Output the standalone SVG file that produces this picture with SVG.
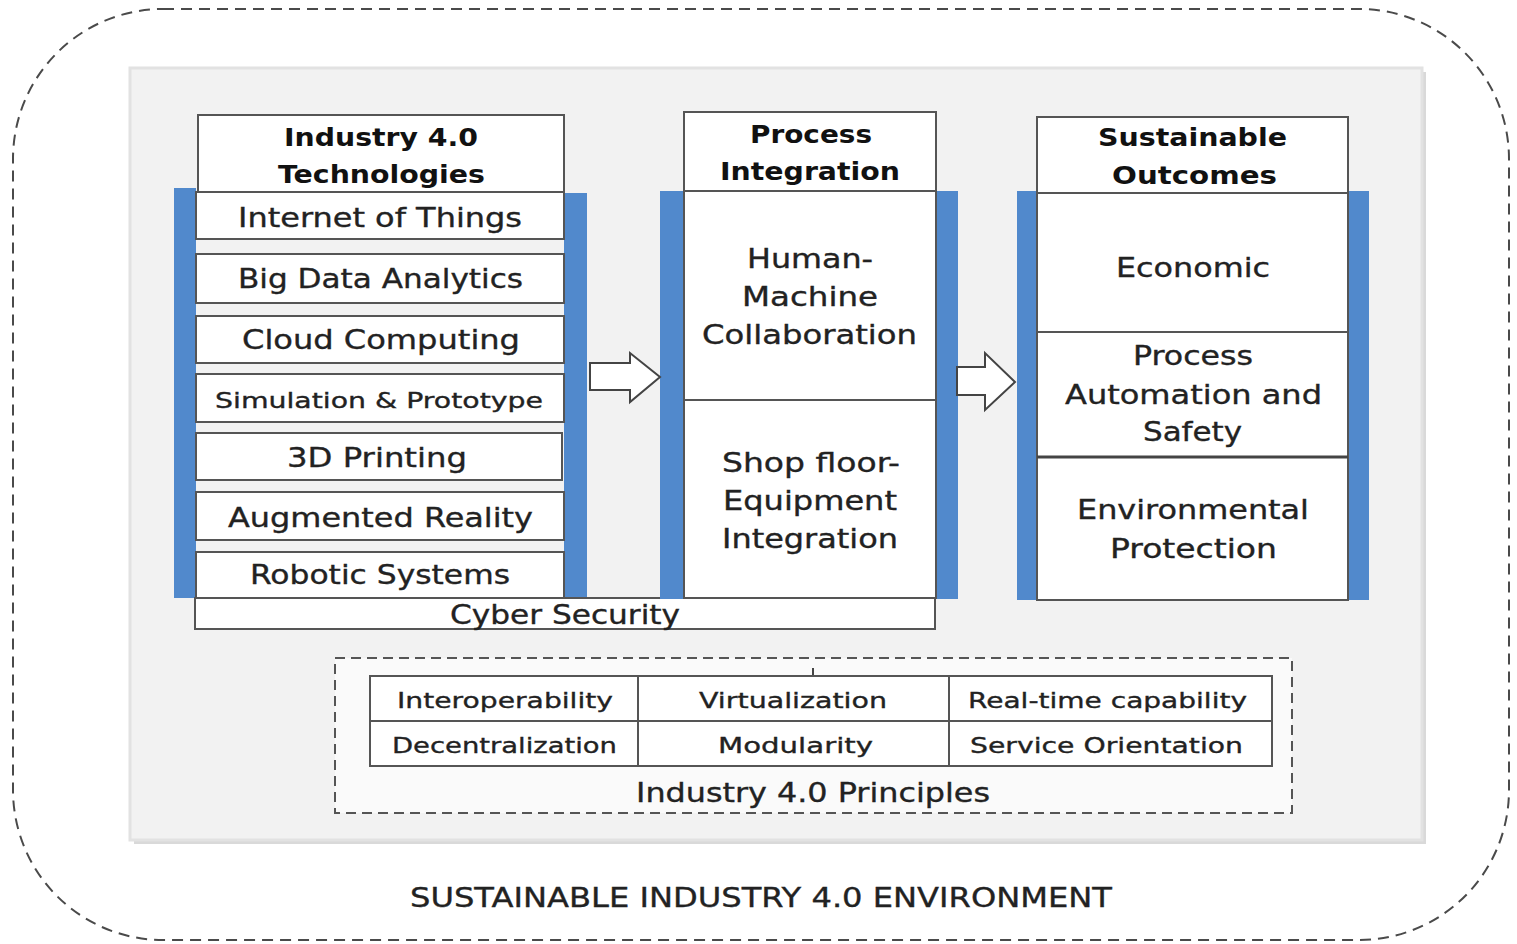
<svg xmlns="http://www.w3.org/2000/svg" width="1517" height="944" viewBox="0 0 1517 944">
<style>
.bar{fill:#5189cc}
.box{fill:#fff;stroke:#555;stroke-width:2}
.t{font-family:"DejaVu Sans",Verdana,sans-serif;fill:#222;font-size:27px;stroke:#222;stroke-width:0.35}
.h{font-weight:bold;font-size:25px;fill:#111;stroke:none}
.m{font-size:26px}
.s{font-size:22px}
.arrow{fill:#fff;stroke:#444;stroke-width:2;stroke-linejoin:miter}
</style>
<rect width="1517" height="944" fill="#fff"/>
<g id="environment">
<rect x="13" y="9" width="1496" height="931" rx="150" ry="150" fill="none" stroke="#4a4a4a" stroke-width="2" stroke-dasharray="11 7"/>
<rect x="134" y="72" width="1292" height="772" fill="#d9d9d9"/>
<rect x="130" y="68" width="1292" height="772" fill="#f2f2f2" stroke="#e2e2e2" stroke-width="3"/>
<text class="t" x="410" y="907" font-size="28" textLength="702" lengthAdjust="spacingAndGlyphs">SUSTAINABLE INDUSTRY 4.0 ENVIRONMENT</text>
</g>
<g id="technologies">
<rect class="bar" x="174" y="188" width="22" height="410"/>
<rect class="bar" x="564" y="193" width="23" height="405"/>
<rect class="box" x="198" y="115" width="366" height="77"/>
<text class="t h" x="284" y="146" textLength="194" lengthAdjust="spacingAndGlyphs">Industry 4.0</text>
<text class="t h" x="278" y="183" textLength="207" lengthAdjust="spacingAndGlyphs">Technologies</text>
<rect class="box" x="196" y="192" width="368" height="47"/>
<text class="t" x="238" y="227" textLength="284" lengthAdjust="spacingAndGlyphs">Internet of Things</text>
<rect class="box" x="196" y="254" width="368" height="49"/>
<text class="t" x="238" y="288" textLength="285" lengthAdjust="spacingAndGlyphs">Big Data Analytics</text>
<rect class="box" x="196" y="316" width="368" height="47"/>
<text class="t" x="242" y="349" textLength="278" lengthAdjust="spacingAndGlyphs">Cloud Computing</text>
<rect class="box" x="196" y="374" width="368" height="48"/>
<text class="t s" x="215" y="408" textLength="328" lengthAdjust="spacingAndGlyphs">Simulation &amp; Prototype</text>
<rect class="box" x="196" y="433" width="366" height="47"/>
<text class="t" x="287" y="467" textLength="180" lengthAdjust="spacingAndGlyphs">3D Printing</text>
<rect class="box" x="196" y="492" width="368" height="48"/>
<text class="t" x="228" y="527" textLength="305" lengthAdjust="spacingAndGlyphs">Augmented Reality</text>
<rect class="box" x="196" y="552" width="368" height="46"/>
<text class="t" x="250" y="584" textLength="260" lengthAdjust="spacingAndGlyphs">Robotic Systems</text>
</g>
<g id="cyber-security">
<rect class="box" x="195" y="598" width="740" height="31"/>
<text class="t" x="450" y="624" textLength="230" lengthAdjust="spacingAndGlyphs">Cyber Security</text>
</g>
<g id="process-integration">
<rect class="bar" x="660" y="191" width="23" height="408"/>
<rect class="bar" x="936" y="191" width="22" height="408"/>
<rect class="box" x="684" y="112" width="252" height="79"/>
<text class="t h" x="750" y="143" textLength="122" lengthAdjust="spacingAndGlyphs">Process</text>
<text class="t h" x="720" y="180" textLength="180" lengthAdjust="spacingAndGlyphs">Integration</text>
<rect class="box" x="684" y="191" width="252" height="209"/>
<text class="t m" x="747" y="268" textLength="126" lengthAdjust="spacingAndGlyphs">Human-</text>
<text class="t m" x="742" y="306" textLength="136" lengthAdjust="spacingAndGlyphs">Machine</text>
<text class="t m" x="702" y="344" textLength="215" lengthAdjust="spacingAndGlyphs">Collaboration</text>
<rect class="box" x="684" y="400" width="252" height="198"/>
<text class="t m" x="722" y="472" textLength="178" lengthAdjust="spacingAndGlyphs">Shop floor-</text>
<text class="t m" x="723" y="510" textLength="174" lengthAdjust="spacingAndGlyphs">Equipment</text>
<text class="t m" x="722" y="548" textLength="176" lengthAdjust="spacingAndGlyphs">Integration</text>
</g>
<g id="sustainable-outcomes">
<rect class="bar" x="1017" y="191" width="20" height="409"/>
<rect class="bar" x="1348" y="191" width="21" height="409"/>
<rect class="box" x="1037" y="117" width="311" height="76"/>
<text class="t h" x="1098" y="146" textLength="189" lengthAdjust="spacingAndGlyphs">Sustainable</text>
<text class="t h" x="1112" y="184" textLength="165" lengthAdjust="spacingAndGlyphs">Outcomes</text>
<rect class="box" x="1037" y="193" width="311" height="139"/>
<text class="t m" x="1116" y="277" textLength="154" lengthAdjust="spacingAndGlyphs">Economic</text>
<rect class="box" x="1037" y="332" width="311" height="125"/>
<text class="t m" x="1133" y="365" textLength="120" lengthAdjust="spacingAndGlyphs">Process</text>
<text class="t m" x="1065" y="404" textLength="257" lengthAdjust="spacingAndGlyphs">Automation and</text>
<text class="t m" x="1143" y="441" textLength="99" lengthAdjust="spacingAndGlyphs">Safety</text>
<rect class="box" x="1037" y="457" width="311" height="143"/>
<line x1="1037" y1="457" x2="1348" y2="457" stroke="#444" stroke-width="3"/>
<text class="t m" x="1077" y="519" textLength="232" lengthAdjust="spacingAndGlyphs">Environmental</text>
<text class="t m" x="1110" y="558" textLength="167" lengthAdjust="spacingAndGlyphs">Protection</text>
</g>
<g id="principles">
<rect x="335" y="658" width="957" height="155" fill="#fafafa" stroke="#555" stroke-width="2" stroke-dasharray="10 6"/>
<line x1="813" y1="668" x2="813" y2="676" stroke="#444" stroke-width="2"/>
<rect class="box" x="370" y="676" width="902" height="90"/>
<line x1="370" y1="721" x2="1272" y2="721" stroke="#555" stroke-width="2"/>
<line x1="638" y1="676" x2="638" y2="766" stroke="#555" stroke-width="2"/>
<line x1="949" y1="676" x2="949" y2="766" stroke="#555" stroke-width="2"/>
<text class="t s" x="397" y="708" textLength="216" lengthAdjust="spacingAndGlyphs">Interoperability</text>
<text class="t s" x="699" y="708" textLength="188" lengthAdjust="spacingAndGlyphs">Virtualization</text>
<text class="t s" x="968" y="708" textLength="279" lengthAdjust="spacingAndGlyphs">Real-time capability</text>
<text class="t s" x="392" y="753" textLength="225" lengthAdjust="spacingAndGlyphs">Decentralization</text>
<text class="t s" x="718" y="753" textLength="155" lengthAdjust="spacingAndGlyphs">Modularity</text>
<text class="t s" x="970" y="753" textLength="273" lengthAdjust="spacingAndGlyphs">Service Orientation</text>
<text class="t" x="636" y="802" font-size="25" textLength="354" lengthAdjust="spacingAndGlyphs">Industry 4.0 Principles</text>
</g>
<g id="connectors">
<path class="arrow" d="M590,363 L630,363 L630,353 L660,377 L630,402 L630,390 L590,390 Z"/>
<path class="arrow" d="M957,367 L985,367 L985,353 L1015,382 L985,410 L985,395 L957,395 Z"/>
</g>
</svg>
